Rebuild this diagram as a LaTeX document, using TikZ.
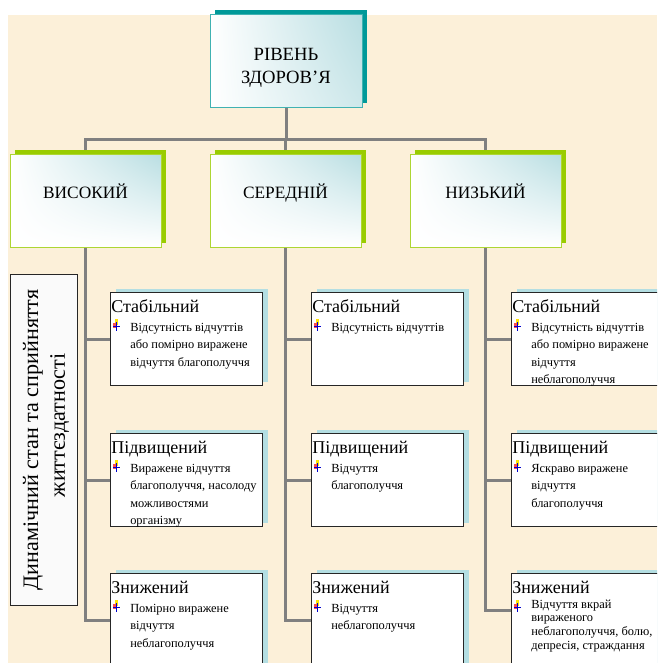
\documentclass[tikz,border=0pt]{standalone}
\usepackage{fontspec}
\setmainfont{Liberation Serif}
\usetikzlibrary{calc,shadows,shadings}
\definecolor{bg}{RGB}{252,240,217}
\definecolor{tealD}{RGB}{0,153,153}
\definecolor{tealL}{RGB}{185,222,226}
\definecolor{greenD}{RGB}{153,204,0}
\definecolor{shadowB}{RGB}{180,222,226}
\definecolor{lineG}{RGB}{128,128,128}
\pgfdeclarelayer{bgfill}
\pgfdeclarelayer{lines}
\pgfsetlayers{bgfill,lines,main}
\begin{document}
\begin{tikzpicture}[x=0.75pt,y=-0.75pt,
  conn/.style={draw=lineG, line width=2.25pt},
  topbox/.style={draw=tealD!75, line width=0.75pt, minimum width=114pt, minimum height=69.75pt, inner sep=0pt,
    upper left=white, lower left=white, upper right=tealL, lower right=tealL!70,
    drop shadow={shadow xshift=3.75pt, shadow yshift=3.75pt, fill=tealD, opacity=1}},
  lvbox/.style={draw=greenD!80, line width=0.75pt, minimum width=113.25pt, minimum height=69.75pt, inner sep=0pt,
    upper left=white, lower left=white, upper right=tealL, lower right=white,
    drop shadow={shadow xshift=3.75pt, shadow yshift=3pt, fill=greenD, opacity=1}},
  itembox/.style={draw=black!85, line width=0.75pt, fill=white, minimum width=114pt, minimum height=69.75pt, inner sep=0pt, anchor=north west,
    drop shadow={shadow xshift=3.75pt, shadow yshift=3pt, fill=shadowB, opacity=1}},
  bigtxt/.style={font=\fontsize{14}{17.25}\selectfont, inner sep=0pt, align=center, anchor=base},
  lvtxt/.style={font=\fontsize{13}{16}\selectfont, inner sep=0pt, anchor=base},
  ttl/.style={font=\fontsize{13.5}{16}\selectfont, inner sep=0pt, anchor=base west},
  btxt/.style={font=\fontsize{9.3}{13.2}\selectfont, inner sep=0pt, anchor=base west, align=left},
  btxttight/.style={font=\fontsize{9.3}{10.2}\selectfont, inner sep=0pt, anchor=base west, align=left},
  bicon/.pic={
    \fill[yellow!85!orange] (2,-12) rectangle (4.5,-6);
    \fill[red!70!white] (0,-8) rectangle (3,-3);
    \fill[blue!80!black] (0,-5.3) rectangle (6.5,-4.2);
    \fill[blue!80!black] (2.6,-9) rectangle (3.8,-0.5);
  }
]
\clip (0,0) rectangle (657,663);
\begin{pgfonlayer}{bgfill}
\fill[white] (0,0) rectangle (657,663);
\fill[bg] (8,15) rectangle (657,663);
\end{pgfonlayer}

% top box
\node[topbox] (top) at (286,61.5) {};
\node[bigtxt] (topT) at (286,84) {РІВЕНЬ\\ЗДОРОВ’Я};

% level 2
\node[lvbox] (vis) at (85.5,200.5) {};
\node[lvbox] (ser) at (285.5,200.5) {};
\node[lvbox] (niz) at (485.5,200.5) {};
\node[lvtxt] (visT) at (85.5,198) {ВИСОКИЙ};
\node[lvtxt] (serT) at (285.5,198) {СЕРЕДНІЙ};
\node[lvtxt] (nizT) at (485.5,198) {НИЗЬКИЙ};

% side label
\node[draw=black!85, line width=0.6pt, fill=black!2, minimum width=50.25pt, minimum height=248.25pt, inner sep=0pt] (side) at (43.5,439.5) {};
\node[rotate=90, align=center, inner sep=0pt, font=\fontsize{16.6}{20}\selectfont] (sideT) at (46,440) {Динамічний стан та сприйняття\\\hspace*{22pt}життєздатності};

% item boxes: left column
\node[itembox] (L1) at (110,292) {};
\node[itembox] (L2) at (110,433) {};
\node[itembox] (L3) at (110,573) {};
% middle column
\node[itembox] (M1) at (311,292) {};
\node[itembox] (M2) at (311,433) {};
\node[itembox] (M3) at (311,573) {};
% right column
\node[itembox] (R1) at (511,292) {};
\node[itembox] (R2) at (511,433) {};
\node[itembox] (R3) at (511,573) {};

\foreach \b in {L1,L2,L3,M1,M2,M3,R1,R2,R3}{
  \pic at ($(\b.north west)+(3,39)$) {bicon};
}

% multi-line texts are anchored at the baseline of their last line
\node[ttl] (L1t) at ($(L1.north west)+(1,20)$) {Стабільний};
\node[btxt] (L1b) at ($(L1.north west)+(20,74.2)$) {Відсутність відчуттів\\або помірно виражене\\відчуття благополуччя};
\node[ttl] (L2t) at ($(L2.north west)+(1,20)$) {Підвищений};
\node[btxt] (L2b) at ($(L2.north west)+(20,91.8)$) {Виражене відчуття\\благополуччя, насолоду\\можливостями\\організму};
\node[ttl] (L3t) at ($(L3.north west)+(1,20)$) {Знижений};
\node[btxt] (L3b) at ($(L3.north west)+(20,74.2)$) {Помірно виражене\\відчуття\\неблагополуччя};

\node[ttl] (M1t) at ($(M1.north west)+(1,20)$) {Стабільний};
\node[btxt] (M1b) at ($(M1.north west)+(20,39)$) {Відсутність відчуттів};
\node[ttl] (M2t) at ($(M2.north west)+(1,20)$) {Підвищений};
\node[btxt] (M2b) at ($(M2.north west)+(20,56.6)$) {Відчуття\\благополуччя};
\node[ttl] (M3t) at ($(M3.north west)+(1,20)$) {Знижений};
\node[btxt] (M3b) at ($(M3.north west)+(20,56.6)$) {Відчуття\\неблагополуччя};

\node[ttl] (R1t) at ($(R1.north west)+(1,20)$) {Стабільний};
\node[btxt] (R1b) at ($(R1.north west)+(20,91.8)$) {Відсутність відчуттів\\або помірно виражене\\відчуття\\неблагополуччя};
\node[ttl] (R2t) at ($(R2.north west)+(1,20)$) {Підвищений};
\node[btxt] (R2b) at ($(R2.north west)+(20,74.2)$) {Яскраво виражене\\відчуття\\благополуччя};
\node[ttl] (R3t) at ($(R3.north west)+(1,20)$) {Знижений};
\node[btxttight] (R3b) at ($(R3.north west)+(20,76)$) {Відчуття вкрай\\вираженого\\неблагополуччя, болю,\\депресія, страждання};

% connectors
\begin{pgfonlayer}{lines}
\draw[conn] (top.south) -- (top.south |- 0,140);
\draw[conn] (vis.north) -- (vis.north |- 0,140) -- (niz.north |- 0,140) -- (niz.north);
\draw[conn] (ser.north) -- (ser.north |- 0,140);
\draw[conn] (vis.south) |- (L1.west);
\draw[conn] (vis.south) |- (L2.west);
\draw[conn] (vis.south) |- (L3.west);
\draw[conn] (ser.south) |- (M1.west);
\draw[conn] (ser.south) |- (M2.west);
\draw[conn] (ser.south) |- (M3.west);
\draw[conn] (niz.south) |- (R1.west);
\draw[conn] (niz.south) |- (R2.west);
\draw[conn] (niz.south) |- ([yshift=7pt]R3.west);
\end{pgfonlayer}
\end{tikzpicture}
\end{document}
